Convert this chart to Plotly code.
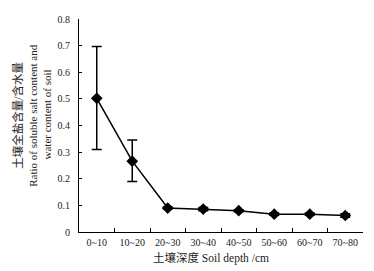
import plotly.graph_objects as go

categories = ["0~10", "10~20", "20~30", "30~40", "40~50", "50~60", "60~70", "70~80"]
ratio = [0.502, 0.266, 0.090, 0.086, 0.080, 0.067, 0.067, 0.062]
err_plus = [0.195, 0.080, 0.004, 0.006, 0.004, 0.004, 0.004, 0.007]
err_minus = [0.192, 0.076, 0.004, 0.006, 0.004, 0.004, 0.004, 0.007]
y_ticks = [0, 0.1, 0.2, 0.3, 0.4, 0.5, 0.6, 0.7, 0.8]
y_title_lines = ["土壤全盐含量/含水量", "Ratio of soluble salt content and", "water content of soil"]
x_title = "土壤深度 Soil depth /cm"

FONT = "Liberation Serif, Times New Roman, Noto Sans CJK SC, serif"

fig = go.Figure()
fig.add_trace(go.Scatter(
    x=categories, y=ratio, mode="lines+markers",
    line=dict(color="black", width=1.5),
    marker=dict(symbol="diamond", size=9, color="black"),
    error_y=dict(type="data", symmetric=False, array=err_plus, arrayminus=err_minus,
                 color="black", thickness=1.5, width=5),
    showlegend=False,
))

title_x = [-0.215, -0.162, -0.114]
title_size = [11.5, 11, 11]
annotations = [
    dict(text=t, xref="paper", yref="paper", x=xx, y=0.55, xanchor="center", yanchor="middle",
         textangle=-90, showarrow=False, font=dict(size=s, family=FONT, color="#222"))
    for t, xx, s in zip(y_title_lines, title_x, title_size)
]
annotations.append(dict(
    text=x_title, xref="paper", yref="paper", x=0.465, y=-0.123, xanchor="center", yanchor="middle",
    showarrow=False, font=dict(size=11.5, family=FONT, color="#222"),
))

# page body adds an 8px offset; figure sized to compensate
fig.update_layout(
    width=366, height=263,
    margin=dict(l=71, r=11, t=5, b=39),
    paper_bgcolor="white", plot_bgcolor="white",
    font=dict(family=FONT, size=10, color="#222"),
    xaxis=dict(
        type="category", range=[-0.5, 7.5], tickson="boundaries",
        ticks="inside", ticklen=4, tickcolor="black", tickwidth=1,
        showline=True, linecolor="black", linewidth=1, showgrid=False,
        tickfont=dict(size=10), zeroline=False, ticklabelstandoff=1,
        ticklabeloverflow="allow",
    ),
    yaxis=dict(
        range=[0, 0.8], tickvals=y_ticks, ticktext=["0"] + [f"{v:.1f}" for v in y_ticks[1:]],
        ticks="inside", ticklen=3, tickcolor="black", tickwidth=1,
        showline=True, linecolor="black", linewidth=1, showgrid=False, zeroline=False,
        tickfont=dict(size=10), ticklabelstandoff=6, ticklabeloverflow="allow",
    ),
    annotations=annotations,
)

fig.write_html("out.html")
